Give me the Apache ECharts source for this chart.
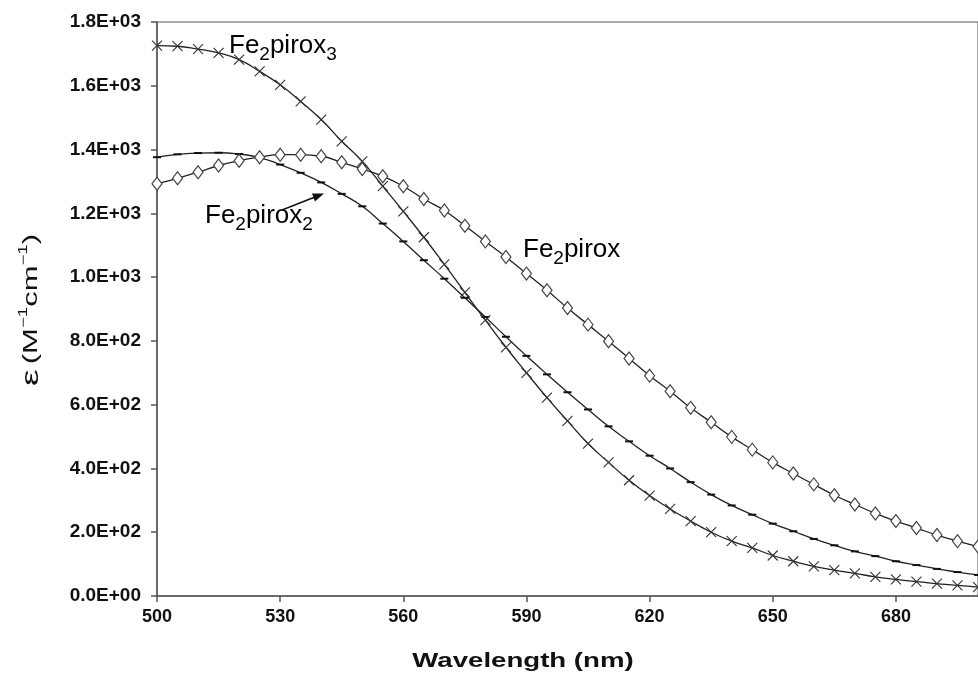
<!DOCTYPE html>
<html>
<head>
<meta charset="utf-8">
<script src="https://cdn.jsdelivr.net/npm/echarts@6/dist/echarts.min.js"></script>
<style>
  html, body { margin: 0; padding: 0; background: #fff; }
  #chart { width: 978px; height: 676px; }
</style>
</head>
<body>
<div id="chart"></div>
<script>
// wavelength (nm), one point every 5 nm
var wavelengths = [500, 505, 510, 515, 520, 525, 530, 535, 540, 545, 550, 555, 560, 565, 570, 575, 580, 585, 590, 595,
  600, 605, 610, 615, 620, 625, 630, 635, 640, 645, 650, 655, 660, 665, 670, 675, 680, 685, 690, 695, 700];

// molar absorptivity values
var fe2pirox = [1293, 1310, 1329, 1350, 1365, 1376, 1384, 1384, 1379, 1360, 1339, 1316, 1285, 1245, 1209, 1161, 1112, 1063, 1011, 959,
  903, 851, 799, 745, 691, 642, 590, 545, 499, 459, 419, 384, 350, 316, 287, 259, 235, 213, 191, 172, 155];
var fe2pirox2 = [1376, 1385, 1389, 1390, 1386, 1375, 1353, 1327, 1297, 1261, 1222, 1168, 1112, 1053, 995, 935, 875, 813, 753, 695,
  639, 585, 532, 485, 440, 400, 357, 318, 284, 255, 227, 203, 179, 159, 140, 125, 109, 97, 85, 75, 66];
var fe2pirox3 = [1726, 1724, 1715, 1703, 1682, 1645, 1603, 1551, 1494, 1426, 1363, 1285, 1206, 1125, 1040, 952, 865, 780, 700, 622,
  549, 478, 419, 363, 315, 273, 235, 200, 172, 151, 127, 109, 93, 81, 71, 60, 52, 45, 39, 33, 28];

function pairs(ys) {
  return wavelengths.map(function (x, i) { return [x, ys[i]]; });
}

function sci(v) {
  if (v === 0) return '0.0E+00';
  var e = Math.floor(Math.log10(v) + 1e-9);
  var m = v / Math.pow(10, e);
  return m.toFixed(1) + 'E+' + (e < 10 ? '0' + e : e);
}

var lineCol = '#222';
var font = 'Liberation Sans';
var labelRich = {
  a: { fontSize: 26, lineHeight: 36, color: '#000', fontFamily: font },
  b: { fontSize: 19, lineHeight: 19, verticalAlign: 'bottom', color: '#000', fontFamily: font }
};

var chart = echarts.init(document.getElementById('chart'));
chart.setOption({
  animation: false,
  backgroundColor: '#fff',
  grid: {
    left: 157, top: 22, bottom: 80, right: -6,
    show: true, borderColor: '#555', borderWidth: 1
  },
  xAxis: {
    type: 'value',
    min: 500, max: 700, interval: 30,
    axisLine: { lineStyle: { color: '#555', width: 1.5 } },
    axisTick: { length: 6, lineStyle: { color: '#555', width: 1.5 } },
    axisLabel: {
      margin: 12, fontSize: 18, fontWeight: 'bold', color: '#111', fontFamily: font,
      showMaxLabel: false
    },
    splitLine: { show: false }
  },
  yAxis: {
    type: 'value',
    min: 0, max: 1800, interval: 200,
    axisLine: { show: true, lineStyle: { color: '#555', width: 1.5 } },
    axisTick: { show: true, length: 6, lineStyle: { color: '#555', width: 1.5 } },
    axisLabel: {
      margin: 16, fontSize: 19, fontWeight: 'bold', color: '#111', fontFamily: font,
      formatter: sci
    },
    splitLine: { show: false }
  },
  series: [
    {
      name: 'Fe2pirox',
      type: 'line',
      data: pairs(fe2pirox),
      smooth: true,
      symbol: 'diamond',
      symbolSize: [10, 13],
      lineStyle: { color: lineCol, width: 1.3 },
      itemStyle: { color: '#fff', borderColor: '#444', borderWidth: 1.2 },
      z: 3
    },
    {
      name: 'Fe2pirox2',
      type: 'line',
      data: pairs(fe2pirox2),
      smooth: true,
      symbol: 'rect',
      symbolSize: [8, 2],
      lineStyle: { color: lineCol, width: 1.3 },
      itemStyle: { color: '#111', borderWidth: 0 },
      z: 2
    },
    {
      name: 'Fe2pirox3',
      type: 'line',
      data: pairs(fe2pirox3),
      smooth: true,
      symbol: 'path://M0,0L10,10M10,0L0,10',
      symbolSize: 10,
      lineStyle: { color: lineCol, width: 1.3 },
      itemStyle: { color: 'none', borderColor: '#333', borderWidth: 1.1 },
      z: 2
    }
  ],
  graphic: [
    { type: 'text', left: 229, top: 33, style: { text: '{a|Fe}{b|2}{a|pirox}{b|3}', rich: labelRich } },
    { type: 'text', left: 523, top: 237, style: { text: '{a|Fe}{b|2}{a|pirox}', rich: labelRich } },
    { type: 'text', left: 205, top: 203, style: { text: '{a|Fe}{b|2}{a|pirox}{b|2}', rich: labelRich } },
    { type: 'line', shape: { x1: 282, y1: 210, x2: 315, y2: 197 }, style: { stroke: '#111', lineWidth: 1.5 } },
    { type: 'polygon', shape: { points: [[324, 193.5], [315, 201.5], [312, 193.5]] }, style: { fill: '#111' } },
    // axis titles (the source lettering is drawn wide)
    {
      type: 'text', x: 523, y: 661, scaleX: 1.38,
      style: { text: 'Wavelength (nm)', font: 'bold 20px "Liberation Sans"', fill: '#111', align: 'center', verticalAlign: 'middle' }
    },
    {
      type: 'text', x: 31, y: 310, rotation: Math.PI / 2, scaleX: 1.55,
      style: {
        text: '{e|ε} {t|(M}{s|−1}{t|cm}{s|−1}{t|)}', align: 'center', verticalAlign: 'middle',
        rich: {
          e: { fontSize: 24, lineHeight: 26, fill: '#111', fontFamily: font },
          t: { fontSize: 20, lineHeight: 26, fill: '#111', fontFamily: font },
          s: { fontSize: 12, lineHeight: 12, verticalAlign: 'top', fill: '#111', fontFamily: font }
        }
      }
    }
  ]
});
</script>
</body>
</html>
